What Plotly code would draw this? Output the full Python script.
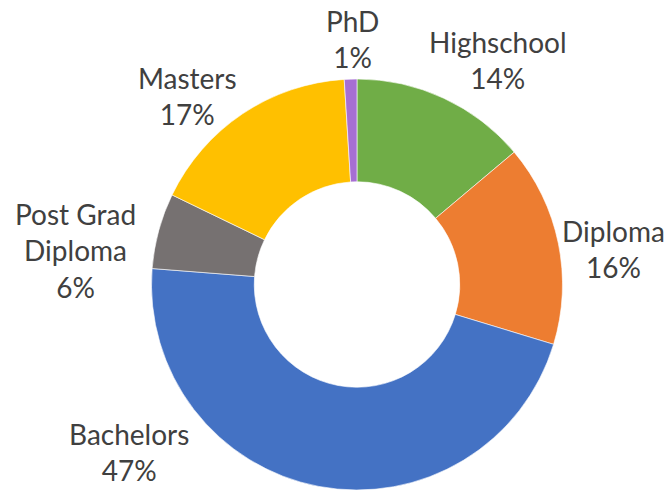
import plotly.graph_objects as go

# Highest qualification, share of respondents (%)
levels = ["Highschool", "Diploma", "Bachelors", "Post Grad Diploma", "Masters", "PhD"]
shares = [14, 16, 47, 6, 17, 1]
colors = ["#70AD47", "#ED7D31", "#4472C4", "#767171", "#FFC000", "#A66FD3"]

W, H = 670, 491

# Where each data label sits on the canvas (pixel centre of the text block)
label_pos = {
    "Highschool": (498, 60),
    "Diploma": (613, 249),
    "Bachelors": (129, 452),
    "Post Grad Diploma": (75, 250),
    "Masters": (187, 96),
    "PhD": (352, 39),
}

fig = go.Figure(
    go.Pie(
        labels=levels,
        values=shares,
        textinfo="none",
        hole=0.5,
        sort=False,
        direction="clockwise",
        rotation=0,
        marker=dict(colors=colors, line=dict(color="white", width=0.6)),
        domain=dict(x=[151 / W, 563 / W], y=[1 / H, 1 - 79 / H]),
        showlegend=False,
        hoverinfo="label+value",
    )
)

for lvl, v in zip(levels, shares):
    px, py = label_pos[lvl]
    fig.add_annotation(
        x=px / W,
        y=1 - py / H,
        xref="paper",
        yref="paper",
        xanchor="center",
        yanchor="middle",
        align="center",
        showarrow=False,
        text=f"{lvl.replace('Post Grad ', 'Post Grad<br>')}<br>{v}%",
        font=dict(family="Lato, 'Open Sans', sans-serif", size=28, color="#404040"),
    )

fig.update_layout(
    width=W,
    height=H,
    margin=dict(l=0, r=0, t=0, b=0),
    paper_bgcolor="white",
    plot_bgcolor="white",
)

fig.write_html("out.html")
